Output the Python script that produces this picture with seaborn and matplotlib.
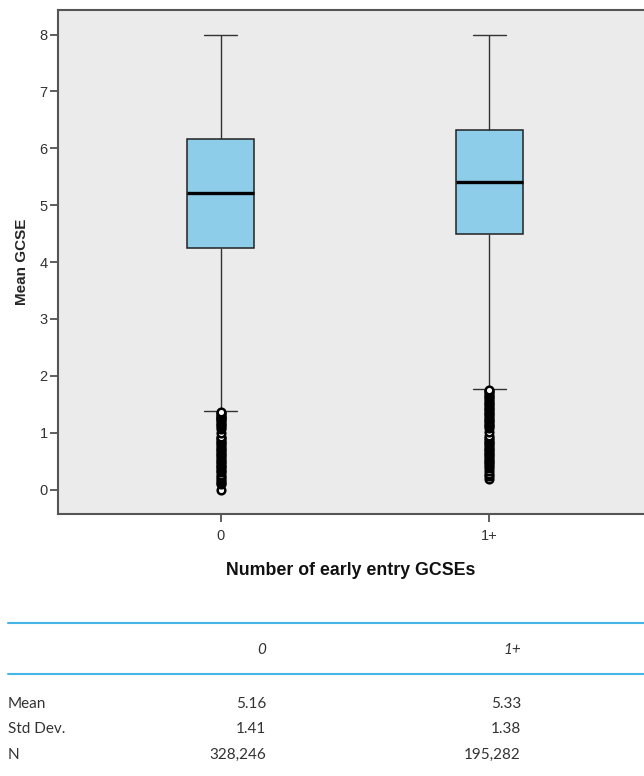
import matplotlib
matplotlib.use('Agg')
import matplotlib.pyplot as plt
from matplotlib.lines import Line2D
import seaborn as sns
import pandas as pd

# values
groups = ['0', '1+']
q1 = [4.25, 4.50]
median = [5.22, 5.40]
q3 = [6.17, 6.33]
whisker_lo = [1.38, 1.77]
whisker_hi = [8.0, 8.0]
outliers = [
    [0.0, 0.09, 0.12, 0.15, 0.18, 0.22, 0.26, 0.3, 0.33, 0.36, 0.39, 0.42, 0.45,
     0.48, 0.51, 0.54, 0.57, 0.6, 0.63, 0.66, 0.69, 0.72, 0.75, 0.78, 0.81,
     0.84, 0.87, 0.9, 0.93, 1.0, 1.07, 1.1, 1.13, 1.16, 1.19, 1.22, 1.24,
     1.26, 1.28, 1.3, 1.32, 1.34, 1.36],
    [0.18, 0.24, 0.28, 0.33, 0.38, 0.42, 0.45, 0.48, 0.51, 0.54, 0.57, 0.6,
     0.63, 0.66, 0.69, 0.72, 0.75, 0.78, 0.81, 0.84, 0.87, 0.9, 0.94, 1.01,
     1.08, 1.11, 1.14, 1.17, 1.2, 1.23, 1.26, 1.29, 1.32, 1.35, 1.38, 1.41,
     1.44, 1.47, 1.5, 1.53, 1.56, 1.59, 1.62, 1.65, 1.68, 1.71, 1.73, 1.75],
]

# summary table below the chart
row_labels = ['Mean', 'Std Dev.', 'N']
mean_vals = ['5.16', '5.33']
sd_vals = ['1.41', '1.38']
n_vals = ['328,246', '195,282']

# rebuild a sample whose box stats match the values above
rows = []
for i, g in enumerate(groups):
    vals = (outliers[i] + [whisker_lo[i]] + [q1[i]] * 200 + [median[i]] * 200
            + [q3[i]] * 200 + [whisker_hi[i]])
    rows += [(g, v) for v in vals]
df = pd.DataFrame(rows, columns=['group', 'value'])

sns.set_style('white', {'axes.facecolor': '#ebebeb', 'axes.edgecolor': '#555555'})
plt.rcParams['font.family'] = ['Liberation Sans', 'DejaVu Sans']

fig = plt.figure(figsize=(6.44, 7.76), dpi=100)
ax = fig.add_axes([57.5 / 644, 262 / 776, 595 / 644, 504.5 / 776])

sns.boxplot(data=df, x='group', y='value', ax=ax, width=0.25, whis=1.5,
            color='#8dcdea', linecolor='#222222', linewidth=1.1, saturation=1,
            medianprops=dict(color='black', linewidth=2.4),
            whiskerprops=dict(color='#333333', linewidth=1),
            capprops=dict(color='#333333', linewidth=1),
            flierprops=dict(marker='o', markersize=5.5, markerfacecolor='white',
                            markeredgecolor='black', markeredgewidth=1.8))

ax.set_xlim(-0.607, 1.607)
ax.set_ylim(-0.43, 8.44)
ax.set_yticks(range(0, 9))
for s in ['left', 'bottom', 'top']:
    ax.spines[s].set_linewidth(1.5)
ax.spines['right'].set_visible(False)
ax.tick_params(axis='both', which='major', direction='out', length=6, width=1.2,
               color='#444444', labelsize=10.5, labelcolor='#333333', pad=1,
               left=True, bottom=True)
ax.tick_params(axis='x', pad=5)

ax.set_xlabel('Number of early entry GCSEs', fontsize=12.8, fontweight='bold',
              color='#111111')
ax.set_ylabel('Mean GCSE', fontsize=11, fontweight='bold')
ax.yaxis.set_label_coords(-0.048, 0.5)
ax.xaxis.set_label_coords(0.493, -0.095)

# table
line_col = '#45b5e8'
for y in [623, 674]:
    fig.add_artist(Line2D([8 / 644, 1.0], [1 - y / 776, 1 - y / 776],
                          transform=fig.transFigure, color=line_col, linewidth=1.5))

tfont = ['Lato', 'DejaVu Sans']
col_x = [266 / 644, 521 / 644]
for j, g in enumerate(groups):
    fig.text(col_x[j], 1 - 650 / 776, g, ha='right', va='center', fontsize=11,
             style='italic', color='#333333', family=tfont)

row_y = [704, 729, 755]
table_vals = [mean_vals, sd_vals, n_vals]
for k, lab in enumerate(row_labels):
    yy = 1 - row_y[k] / 776
    fig.text(8 / 644, yy, lab, ha='left', va='center', fontsize=11,
             color='#333333', family=tfont)
    for j in range(len(groups)):
        fig.text(col_x[j], yy, table_vals[k][j], ha='right', va='center',
                 fontsize=11, color='#333333', family=tfont)

fig.savefig('out.png', dpi=100)
plt.close(fig)
